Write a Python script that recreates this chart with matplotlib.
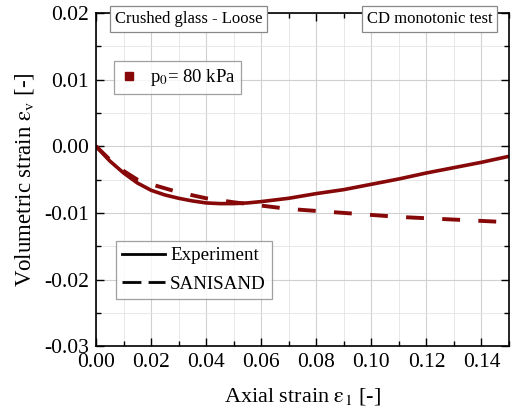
import matplotlib

matplotlib.use("Agg")
import matplotlib.pyplot as plt
from matplotlib.lines import Line2D
from matplotlib.ticker import MultipleLocator, FormatStrFormatter

plt.rcParams["font.family"] = ["Liberation Serif", "DejaVu Serif"]
plt.rcParams["mathtext.fontset"] = "stix"

# Experiment (solid)
exp_strain = [0.0, 0.005, 0.01, 0.015, 0.02, 0.025, 0.03, 0.035, 0.04, 0.045,
              0.05, 0.055, 0.06, 0.07, 0.08, 0.09, 0.10, 0.11, 0.12, 0.13,
              0.14, 0.15]
exp_vol = [0.0, -0.0022, -0.0040, -0.0055, -0.0066, -0.0073, -0.0078, -0.0082,
           -0.0085, -0.0086, -0.0086, -0.0085, -0.0083, -0.0078, -0.0071,
           -0.0065, -0.0057, -0.0049, -0.0040, -0.0032, -0.0024, -0.0015]

# SANISAND (dashed)
sim_strain = [0.0, 0.005, 0.01, 0.015, 0.02, 0.025, 0.03, 0.04, 0.05, 0.06,
              0.07, 0.08, 0.09, 0.10, 0.11, 0.12, 0.13, 0.14, 0.15]
sim_vol = [0.0, -0.0020, -0.0037, -0.0050, -0.0057, -0.0063, -0.0069,
           -0.0078, -0.0084, -0.0089, -0.0094, -0.0097, -0.0100, -0.0103,
           -0.0106, -0.0108, -0.0110, -0.0112, -0.0114]

RED = "#860808"

fig = plt.figure(figsize=(5.11, 4.12), dpi=100)
ax = fig.add_axes([0.188, 0.160, 0.808, 0.808])

ax.plot(exp_strain, exp_vol, color=RED, linewidth=2.6, solid_capstyle="round")
ax.plot(sim_strain, sim_vol, color=RED, linewidth=2.8, linestyle=(0, (4.6, 4.7)))

ax.set_xlim(0, 0.15)
ax.set_ylim(-0.03, 0.02)
ax.xaxis.set_major_locator(MultipleLocator(0.02))
ax.xaxis.set_minor_locator(MultipleLocator(0.01))
ax.yaxis.set_major_locator(MultipleLocator(0.01))
ax.yaxis.set_minor_locator(MultipleLocator(0.005))
ax.xaxis.set_major_formatter(FormatStrFormatter("%.2f"))
ax.yaxis.set_major_formatter(FormatStrFormatter("%.2f"))
ax.grid(which="major", color="#d0d0d0", linewidth=0.8)
ax.grid(which="minor", color="#e4e4e4", linewidth=0.6)
ax.set_axisbelow(True)
ax.tick_params(which="both", direction="in", top=True, right=True,
               labelsize=15.5, width=1.0)
ax.tick_params(which="major", length=6, pad=5)
ax.tick_params(which="minor", length=3.5)
for s in ax.spines.values():
    s.set_linewidth(1.2)

ax.set_xlabel(r"Axial strain $\mathrm{\varepsilon_1}$ [-]", fontsize=16, labelpad=10)
ax.set_ylabel(r"Volumetric strain $\mathrm{\varepsilon_v}$ [-]", fontsize=16.5, labelpad=6)

box = dict(boxstyle="square,pad=0.3", facecolor="white", edgecolor="#888888", linewidth=0.9)
ax.text(0.045, 0.982, "Crushed glass - Loose", transform=ax.transAxes, fontsize=12,
        va="center", ha="left", bbox=box)
ax.text(0.96, 0.982, "CD monotonic test", transform=ax.transAxes, fontsize=12,
        va="center", ha="right", bbox=box)

marker_handle = [Line2D([], [], color=RED, marker="s", linestyle="none", markersize=6)]
leg1 = ax.legend(marker_handle, [r"p$_0$= 80 kPa"], loc="upper left",
                 bbox_to_anchor=(0.044, 0.855), fontsize=13.5, frameon=True,
                 fancybox=False, edgecolor="#888888", handlelength=1.0,
                 handletextpad=0.6, borderpad=0.3, borderaxespad=0)
leg1.get_frame().set_linewidth(0.9)
ax.add_artist(leg1)

line_handles = [Line2D([], [], color="black", linewidth=2.0),
                Line2D([], [], color="black", linewidth=2.0, linestyle=(0, (6.8, 2.6)))]
leg2 = ax.legend(line_handles, ["Experiment", "SANISAND"], loc="upper left",
                 bbox_to_anchor=(0.048, 0.315), fontsize=13.7, frameon=True,
                 fancybox=False, edgecolor="#888888", handlelength=2.3,
                 handletextpad=0.25, borderpad=0.3, labelspacing=0.6,
                 borderaxespad=0)
leg2.get_frame().set_linewidth(0.9)

fig.savefig("out.png", dpi=100)
